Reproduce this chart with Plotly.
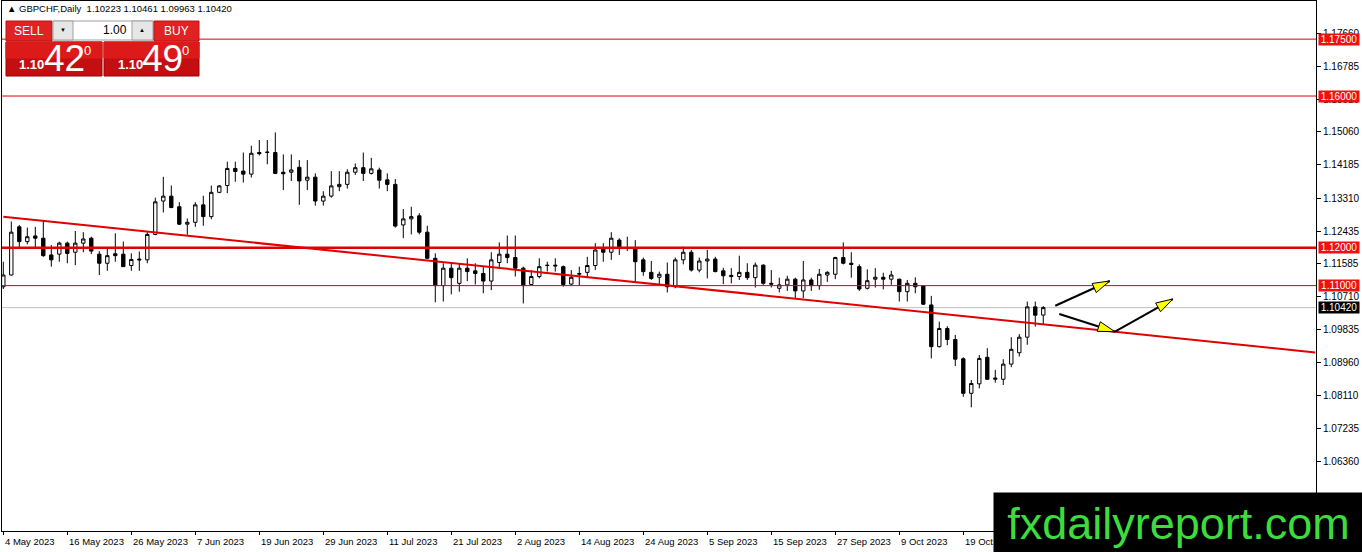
import pandas as pd
import plotly.graph_objects as go

# GBPCHF daily, MT4 style screenshot
dates = pd.bdate_range("2023-05-04", periods=131).strftime("%Y-%m-%d").tolist()

opens = [
    1.1097, 1.1128, 1.1255, 1.1216, 1.1231, 1.1225, 1.1181, 1.1183, 1.1212, 1.1188,
    1.1212, 1.1225, 1.1183, 1.1159, 1.1184, 1.1183, 1.1153, 1.1170, 1.1168, 1.1235,
    1.1323, 1.1336, 1.1308, 1.1262, 1.1267, 1.1313, 1.1282, 1.1346, 1.1364, 1.1409,
    1.1402, 1.1394, 1.1451, 1.1451, 1.1451, 1.1399, 1.1399, 1.1412, 1.1378, 1.1386,
    1.1323, 1.1336, 1.1361, 1.1367, 1.1399, 1.1411, 1.1396, 1.1405, 1.1379, 1.1367,
    1.1260, 1.1276, 1.1284, 1.1241, 1.1172, 1.1100, 1.1146, 1.1106, 1.1146, 1.1139,
    1.1132, 1.1112, 1.1161, 1.1183, 1.1174, 1.1146, 1.1103, 1.1124, 1.1154, 1.1154,
    1.1150, 1.1104, 1.1130, 1.1135, 1.1153, 1.1197, 1.1188, 1.1220, 1.1200, 1.1200,
    1.1168, 1.1135, 1.1122, 1.1130, 1.1097, 1.1168, 1.1188, 1.1141, 1.1165, 1.1170,
    1.1139, 1.1127, 1.1124, 1.1135, 1.1121, 1.1154, 1.1106, 1.1093, 1.1102, 1.1117,
    1.1086, 1.1115, 1.1100, 1.1128, 1.1130, 1.1174, 1.1159, 1.1150, 1.1093, 1.1117,
    1.1122, 1.1117, 1.1117, 1.1084, 1.1106, 1.1099, 1.1049, 1.0939, 1.0987, 1.0958,
    1.0907, 1.0816, 1.0841, 1.0911, 1.0853, 1.0853, 1.0893, 1.0923, 1.0964, 1.1044,
    1.10223,
]
highs = [
    1.1163, 1.1269, 1.1260, 1.1253, 1.1255, 1.1271, 1.1207, 1.1216, 1.1216, 1.1244,
    1.1241, 1.1229, 1.1191, 1.1198, 1.1238, 1.1216, 1.1185, 1.1190, 1.1241, 1.1332,
    1.1387, 1.1364, 1.1320, 1.1277, 1.1320, 1.1337, 1.1364, 1.1365, 1.1427, 1.1427,
    1.1451, 1.1469, 1.1484, 1.1484, 1.1504, 1.1446, 1.1446, 1.1431, 1.1431, 1.1396,
    1.1349, 1.1402, 1.1402, 1.1407, 1.1422, 1.1451, 1.1437, 1.1411, 1.1396, 1.1381,
    1.1302, 1.1308, 1.1291, 1.1258, 1.1185, 1.1159, 1.1159, 1.1159, 1.1172, 1.1159,
    1.1150, 1.1188, 1.1214, 1.1232, 1.1232, 1.1150, 1.1141, 1.1172, 1.1163, 1.1172,
    1.1153, 1.1141, 1.1150, 1.1176, 1.1212, 1.1212, 1.1241, 1.1225, 1.1229, 1.1220,
    1.1174, 1.1165, 1.1137, 1.1161, 1.1174, 1.1203, 1.1194, 1.1174, 1.1194, 1.1176,
    1.1147, 1.1146, 1.1179, 1.1159, 1.1161, 1.1156, 1.1141, 1.1121, 1.1126, 1.1121,
    1.1165, 1.1121, 1.1144, 1.1138, 1.1176, 1.1214, 1.1188, 1.1156, 1.1143, 1.1146,
    1.1134, 1.1139, 1.1118, 1.1115, 1.1122, 1.1100, 1.1073, 1.1005, 1.0993, 1.0970,
    1.0911, 1.0851, 1.0917, 1.0935, 1.0878, 1.0906, 1.0964, 1.0972, 1.1058, 1.1058,
    1.10461,
]
lows = [
    1.1091, 1.1127, 1.1200, 1.1209, 1.1200, 1.1176, 1.1150, 1.1163, 1.1159, 1.1154,
    1.1188, 1.1183, 1.1128, 1.1139, 1.1163, 1.1150, 1.1139, 1.1139, 1.1159, 1.1233,
    1.1293, 1.1304, 1.1260, 1.1234, 1.1255, 1.1258, 1.1275, 1.1344, 1.1344, 1.1374,
    1.1372, 1.1385, 1.1443, 1.1420, 1.1394, 1.1352, 1.1376, 1.1313, 1.1352, 1.1311,
    1.1311, 1.1332, 1.1349, 1.1356, 1.1392, 1.1376, 1.1393, 1.1356, 1.1349, 1.1253,
    1.1225, 1.1235, 1.1235, 1.1170, 1.1056, 1.1058, 1.1077, 1.1084, 1.1112, 1.1103,
    1.1080, 1.1088, 1.1144, 1.1159, 1.1124, 1.1053, 1.1102, 1.1119, 1.1137, 1.1137,
    1.1097, 1.1102, 1.1100, 1.1124, 1.1141, 1.1163, 1.1168, 1.1181, 1.1191, 1.1110,
    1.1126, 1.1115, 1.1104, 1.1082, 1.1093, 1.1156, 1.1137, 1.1135, 1.1119, 1.1135,
    1.1104, 1.1106, 1.1115, 1.1115, 1.1095, 1.1102, 1.1095, 1.1082, 1.1086, 1.1067,
    1.1067, 1.1086, 1.1089, 1.1110, 1.1117, 1.1156, 1.1121, 1.1086, 1.1090, 1.1095,
    1.1090, 1.1102, 1.1058, 1.1058, 1.1080, 1.1049, 1.0908, 1.0937, 1.0943, 1.0888,
    1.0807, 1.0779, 1.0829, 1.0851, 1.0844, 1.0838, 1.0885, 1.0913, 1.0944, 1.0992,
    1.09963,
]
closes = [
    1.1128, 1.1241, 1.1216, 1.1229, 1.1225, 1.1179, 1.1168, 1.1212, 1.1185, 1.1212,
    1.1223, 1.1191, 1.1159, 1.1179, 1.1179, 1.1150, 1.1169, 1.1168, 1.1235, 1.1321,
    1.1336, 1.1306, 1.1262, 1.1267, 1.1313, 1.1282, 1.1346, 1.1363, 1.1409, 1.1401,
    1.1394, 1.1449, 1.1448, 1.1452, 1.1396, 1.1395, 1.1405, 1.1376, 1.1386, 1.1323,
    1.1336, 1.1363, 1.1367, 1.1399, 1.1411, 1.1396, 1.1408, 1.1378, 1.1367, 1.1257,
    1.1276, 1.1282, 1.1241, 1.1172, 1.1100, 1.1146, 1.1121, 1.1146, 1.1137, 1.1132,
    1.1112, 1.1168, 1.1183, 1.1174, 1.1146, 1.1100, 1.1124, 1.1150, 1.1153, 1.1152,
    1.1103, 1.1122, 1.1132, 1.1153, 1.1194, 1.1188, 1.1225, 1.1200, 1.1198, 1.1163,
    1.1137, 1.1119, 1.1130, 1.1097, 1.1168, 1.1188, 1.1141, 1.1165, 1.1170, 1.1137,
    1.1126, 1.1124, 1.1135, 1.1121, 1.1154, 1.1106, 1.1104, 1.1102, 1.1117, 1.1086,
    1.1115, 1.1100, 1.1130, 1.1135, 1.1174, 1.1159, 1.1156, 1.1091, 1.1113, 1.1122,
    1.1117, 1.1128, 1.1084, 1.1106, 1.1097, 1.1051, 1.0939, 1.0987, 1.0958, 1.0906,
    1.0816, 1.0842, 1.0908, 1.0853, 1.0856, 1.0893, 1.0932, 1.0964, 1.1044, 1.1022,
    1.10420,
]

tick_labels = [
    "4 May 2023", "16 May 2023", "26 May 2023", "7 Jun 2023", "19 Jun 2023",
    "29 Jun 2023", "11 Jul 2023", "21 Jul 2023", "2 Aug 2023", "14 Aug 2023",
    "24 Aug 2023", "5 Sep 2023", "15 Sep 2023", "27 Sep 2023", "9 Oct 2023",
    "19 Oct 2023", "31 Oct 2023",
]
tick_index = list(range(0, 131, 8))

price_ticks = [1.17660, 1.16785, 1.15910, 1.15060, 1.14185, 1.13310, 1.12435,
               1.11585, 1.10710, 1.09835, 1.08960, 1.08110, 1.07235, 1.06360]

levels = [1.17500, 1.16000, 1.12000, 1.11000]
last_price = 1.10420

trend_x = [0, 164]
trend_y = [1.12818, 1.09239]

# arrows: (x0, y0, x1, y1) in bar index / price
arrows = [
    (131.5, 1.10470, 138.3, 1.11122),
    (132.0, 1.10252, 138.96, 1.09785),
    (138.96, 1.09785, 146.2, 1.10647),
]

header = "▲ GBPCHF,Daily  1.10223 1.10461 1.09963 1.10420"

W, H = 1362, 552
PL, PR, PT, PB = 2, 1316, 1, 531
X_RANGE = [-0.1625, 164.09]
Y_RANGE = [1.04529, 1.18506]
FONT = "Liberation Sans"


def fx(px):
    return (px - PL) / (PR - PL)


def fy(py):
    return (PB - py) / (PB - PT)


def box(x0, y0, x1, y1, fill, line=None):
    return dict(type="rect", xref="paper", yref="paper", layer="above",
                x0=fx(x0), x1=fx(x1), y0=fy(y1), y1=fy(y0), fillcolor=fill,
                line=dict(color=line or fill, width=1))


def text(px, py, s, size, color="white", anchor="center"):
    return dict(xref="paper", yref="paper", x=fx(px), y=fy(py), text=s,
                showarrow=False, xanchor=anchor, yanchor="middle",
                font=dict(family=FONT, size=size, color=color))


fig = go.Figure()

fig.add_trace(go.Candlestick(
    x=list(range(len(dates))), open=opens, high=highs, low=lows, close=closes,
    text=dates, hoverinfo="skip", whiskerwidth=0,
    increasing=dict(line=dict(color="black", width=1), fillcolor="white"),
    decreasing=dict(line=dict(color="black", width=1), fillcolor="black"),
    showlegend=False,
))

fig.add_trace(go.Scatter(
    x=trend_x, y=trend_y, mode="lines", hoverinfo="skip", showlegend=False,
    line=dict(color="#e00000", width=2),
))

shapes = []
shapes.append(dict(type="line", xref="paper", yref="y", x0=0, x1=1,
                   y0=last_price, y1=last_price, layer="below",
                   line=dict(color="#c0c0c0", width=1)))
for lv in levels:
    shapes.append(dict(type="line", xref="paper", yref="y", x0=0, x1=1,
                       y0=lv, y1=lv, layer="above",
                       line=dict(color="#e00000", width=2.5 if lv == 1.12 else 1)))

# arrows with yellow heads
sx = (PR - PL) / (X_RANGE[1] - X_RANGE[0])
sy = (PB - PT) / (Y_RANGE[1] - Y_RANGE[0])
for x0, y0, x1, y1 in arrows:
    shapes.append(dict(type="line", xref="x", yref="y", x0=x0, y0=y0, x1=x1, y1=y1,
                       layer="above", line=dict(color="black", width=2)))
    dx, dy = (x1 - x0) * sx, (y1 - y0) * sy
    n = (dx * dx + dy * dy) ** 0.5
    ux, uy = dx / n, dy / n
    hl, hw = 17, 5
    bx, by = -ux * hl, -uy * hl
    pts = [(0, 0), (bx - uy * hw, by + ux * hw), (bx + uy * hw, by - ux * hw)]
    path = " ".join(("M" if i == 0 else "L") + f"{x1 + px_ / sx},{y1 + py_ / sy}"
                    for i, (px_, py_) in enumerate(pts)) + " Z"
    shapes.append(dict(type="path", xref="x", yref="y", path=path, layer="above",
                       fillcolor="#ffff00", line=dict(color="black", width=1)))

# one-click trading panel
shapes += [
    box(6, 21, 52, 41, "#e02222", "#c01010"),
    box(53, 21, 153, 40, "white", "#a0a0a0"),
    box(53, 21, 73, 40, "#e6e6e6", "#a0a0a0"),
    box(132, 21, 153, 40, "#e6e6e6", "#a0a0a0"),
    box(154, 21, 199, 41, "#e02222", "#c01010"),
    box(6, 42, 102, 76, "#c40f12", "#a00000"),
    box(6, 42, 102, 58, "#dc1a1a"),
    box(104, 42, 199, 76, "#c40f12", "#a00000"),
    box(104, 42, 199, 58, "#dc1a1a"),
]

annotations = [
    text(5, 9, header, 9.5, "black", "left"),
    text(29, 31, "SELL", 12),
    text(63, 30, "▼", 6, "black"),
    text(129, 30, "1.00", 12, "black", "right"),
    text(142, 30, "▲", 6, "black"),
    text(176, 31, "BUY", 12),
    text(31, 65, "<b>1.10</b>", 13),
    text(64, 59, "42", 37),
    text(87, 51, "0", 13),
    text(130, 65, "<b>1.10</b>", 13),
    text(162, 59, "49", 37),
    text(185, 51, "0", 13),
]

# date labels, left aligned at their tick
for i, lab in zip(tick_index, tick_labels):
    annotations.append(dict(xref="x", yref="paper", x=i, y=fy(541), text=lab,
                            showarrow=False, xanchor="left", yanchor="middle",
                            font=dict(family=FONT, size=9.5, color="black")))

# price tags on the right scale
for lv in levels:
    annotations.append(dict(xref="paper", yref="y", x=fx(1318), y=lv,
                            text=f"{lv:.5f}", showarrow=False, xanchor="left",
                            yanchor="middle", bgcolor="#f01010", borderpad=0,
                            width=40, height=11,
                            font=dict(family=FONT, size=10, color="white")))
annotations.append(dict(xref="paper", yref="y", x=fx(1318), y=last_price,
                        text=f"{last_price:.5f}", showarrow=False, xanchor="left",
                        yanchor="middle", bgcolor="black", borderpad=0,
                        width=40, height=11,
                        font=dict(family=FONT, size=10, color="white")))

# watermark
annotations.append(dict(xref="paper", yref="paper", x=fx(993), y=fy(492),
                        xanchor="left", yanchor="top", width=369, height=60,
                        text="fxdailyreport.com", showarrow=False, bgcolor="black",
                        borderpad=0, align="center", valign="middle",
                        font=dict(family=FONT, size=45, color="#3cdc3c")))

fig.update_layout(
    template="none",
    width=W, height=H,
    margin=dict(l=PL, r=W - PR, t=PT, b=H - PB, autoexpand=False),
    paper_bgcolor="white", plot_bgcolor="white",
    boxgap=0.4,
    shapes=shapes,
    annotations=annotations,
    showlegend=False,
    hovermode=False,
    xaxis=dict(range=X_RANGE, rangeslider=dict(visible=False), showgrid=False,
               zeroline=False, showline=True, mirror=True, linecolor="black",
               linewidth=1, tickvals=tick_index, ticks="outside", ticklen=3,
               tickcolor="black", showticklabels=False, automargin=False,
               fixedrange=True),
    yaxis=dict(range=Y_RANGE, side="right", showgrid=False, zeroline=False,
               showline=True, mirror=True, linecolor="black", linewidth=1,
               tickvals=price_ticks, tickformat=".5f", ticks="outside", ticklen=4,
               tickcolor="black", automargin=False, fixedrange=True,
               tickfont=dict(family=FONT, size=10, color="black")),
)

# the page body has a default 8px margin; drop it so the chart fills the window
fig.write_html("out.html", config={"displayModeBar": False},
               post_script="document.body.style.margin='0';")
